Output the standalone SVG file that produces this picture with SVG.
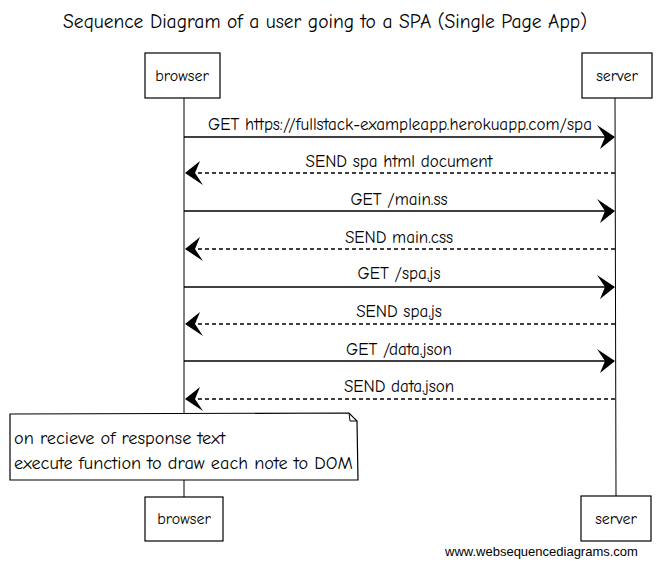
<svg xmlns="http://www.w3.org/2000/svg" width="665" height="565" viewBox="0 0 665 565">
<style>
.hand{font-family:"Comic Neue","Noto Sans","DejaVu Sans",sans-serif;fill:#000}
.box{fill:#fff;stroke:#000;stroke-width:1.2}
.life{stroke:#000;stroke-width:1}
.msg{stroke:#000;stroke-width:1.4;fill:none}
.dash{stroke-dasharray:4,3}
.lbl{font-size:17px;text-anchor:middle}
.part{font-size:16px;text-anchor:middle}
</style>
<defs>
<marker id="ah" viewBox="0 0 18 24" refX="17" refY="12" markerWidth="18" markerHeight="24" markerUnits="userSpaceOnUse" orient="auto-start-reverse">
<path d="M0,0 L18,12 L3,24 L8,12 Z" fill="#000"/>
</marker>
</defs>
<rect width="665" height="565" fill="#fff"/>
<text class="hand" x="325" y="28" font-size="19.5" text-anchor="middle">Sequence Diagram of a user going to a SPA (Single Page App)</text>
<g id="lifelines">
<line class="life" x1="184" y1="98" x2="184" y2="413"/>
<line class="life" x1="184" y1="480" x2="184" y2="497"/>
<line class="life" x1="615" y1="98" x2="616" y2="496"/>
</g>
<g id="browser-top"><rect class="box" x="145" y="53" width="75" height="45"/><text class="hand part" x="182" y="81">browser</text></g>
<g id="server-top"><rect class="box" x="582" y="53" width="70" height="45"/><text class="hand part" x="617" y="81">server</text></g>
<g id="browser-bottom"><rect class="box" x="145" y="497" width="78" height="44"/><text class="hand part" x="184" y="524">browser</text></g>
<g id="server-bottom"><rect class="box" x="581" y="496" width="70" height="45"/><text class="hand part" x="616" y="524">server</text></g>
<g id="connectors">
<line class="msg" x1="184" y1="137" x2="614" y2="137" marker-end="url(#ah)"/>
<text class="hand lbl" x="400" y="130">GET https://fullstack-exampleapp.herokuapp.com/spa</text>
<line class="msg dash" x1="615" y1="173" x2="186" y2="173" marker-end="url(#ah)"/>
<text class="hand lbl" x="399" y="167">SEND spa html document</text>
<line class="msg" x1="184" y1="211" x2="614" y2="211" marker-end="url(#ah)"/>
<text class="hand lbl" x="399" y="205">GET /main.ss</text>
<line class="msg dash" x1="615" y1="249" x2="186" y2="249" marker-end="url(#ah)"/>
<text class="hand lbl" x="399" y="243">SEND main.css</text>
<line class="msg" x1="184" y1="287" x2="614" y2="287" marker-end="url(#ah)"/>
<text class="hand lbl" x="399" y="279">GET /spa.js</text>
<line class="msg dash" x1="615" y1="324" x2="186" y2="324" marker-end="url(#ah)"/>
<text class="hand lbl" x="399" y="317">SEND spa.js</text>
<line class="msg" x1="184" y1="361" x2="614" y2="361" marker-end="url(#ah)"/>
<text class="hand lbl" x="399" y="355">GET /data.json</text>
<line class="msg dash" x1="615" y1="399" x2="186" y2="399" marker-end="url(#ah)"/>
<text class="hand lbl" x="399" y="392">SEND data.json</text>
</g>
<g id="note">
<path d="M10,414 L349,413 L357,421 L358,480 L10,480 Z" fill="#fff" stroke="#000" stroke-width="1.2"/>
<path d="M349,413 L350,421 L357,421" fill="none" stroke="#000" stroke-width="1"/>
<text class="hand" x="14" y="444" font-size="18.3">on recieve of response text</text>
<text class="hand" x="14" y="469" font-size="18.3">execute function to draw each note to DOM</text>
</g>
<text x="445" y="556" font-family="Liberation Sans,Arial,sans-serif" font-size="13" fill="#000">www.websequencediagrams.com</text>
</svg>
